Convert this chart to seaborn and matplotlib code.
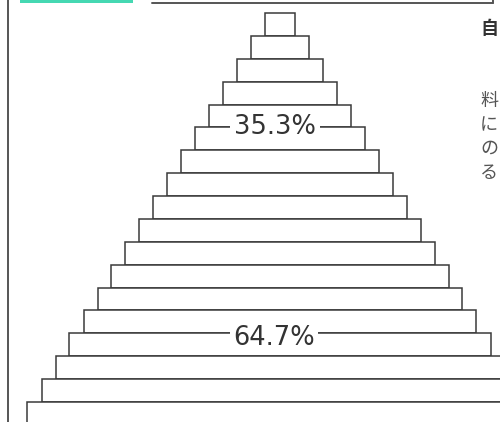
import matplotlib
matplotlib.use("Agg")
import matplotlib.pyplot as plt
import seaborn as sns
import numpy as np
from matplotlib.lines import Line2D
from matplotlib.patches import Rectangle

# pyramid tiers, top to bottom (width of each step)
tier_widths = [30, 58, 86, 114, 142, 170, 198, 226, 254, 282,
               310, 338, 364, 392, 422, 448, 476, 506]
tiers = np.arange(len(tier_widths))

labels = ["35.3%", "64.7%"]
label_rows = [4.5, 13.7]   # boundary between tiers where the share is written
label_x = [-5, -6]

side_chars = ["自", "料", "に", "の", "る"]

sns.set_style("white")
plt.rcParams['font.family'] = ['DejaVu Sans']

fig = plt.figure(figsize=(5, 4.22), dpi=100)
ax = fig.add_axes([0, 0, 1, 1])
widths = np.array(tier_widths)
ax.barh(tiers, widths, left=-widths / 2, height=1.0,
        color="white", edgecolor="#3a3a3a", linewidth=1.1)

for txt, yy, xx in zip(labels, label_rows, label_x):
    ax.text(xx, yy, txt, ha="center", va="center", fontsize=18.5,
            color="#333333",
            bbox=dict(facecolor="white", edgecolor="none", pad=2.5))

ax.set_xlim(-280, 220)
ax.set_ylim(17.376, -1.068)
ax.axis("off")

# frame pieces from the page around the chart
fig.add_artist(Line2D([8 / 500, 8 / 500], [0, 1], color="#555555", lw=1.4))
fig.add_artist(Rectangle((20 / 500, 1 - 3 / 422), 113 / 500, 3 / 422,
                         color="#45d8b2", lw=0))
fig.add_artist(Line2D([152 / 500, 493 / 500], [1 - 2.5 / 422, 1 - 2.5 / 422],
                      color="#555555", lw=1.4))
fig.add_artist(Line2D([493 / 500, 493 / 500], [1 - 2.5 / 422, 1],
                      color="#555555", lw=1.4))

# side text, kept just inside the right edge
jp = ['Noto Sans CJK JP', 'DejaVu Sans']
fig.text(498 / 500, 1 - 29 / 422, side_chars[0], family=jp, fontsize=13,
         fontweight="bold", color="#333333", ha="right", va="center")
for i, ch in enumerate(side_chars[1:]):
    fig.text(498 / 500, 1 - (101 + 24 * i) / 422, ch, family=jp, fontsize=13,
             color="#555555", ha="right", va="center")

fig.savefig("out.png", dpi=100)
